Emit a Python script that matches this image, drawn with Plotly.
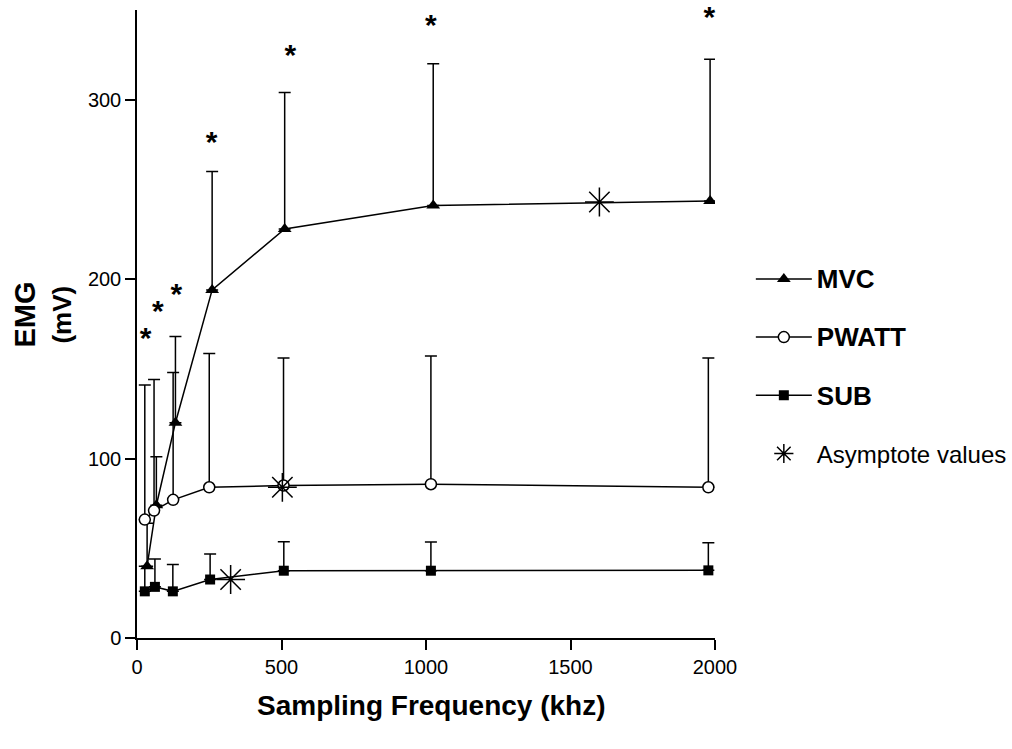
import plotly.graph_objects as go

# ---- data ----
freq_mvc = [35, 67, 133, 260, 511, 1025, 1983]
mvc_mean = [40, 74, 120, 194, 228, 241, 243.5]
mvc_sd = [24, 27, 48, 66, 76, 79, 79]

freq_pwatt = [27, 59, 125, 250, 507, 1017, 1977]
pwatt_mean = [66, 71, 77, 84, 85, 85.7, 84]
pwatt_sd = [75, 73, 71, 74.5, 71, 71.5, 72]

freq_sub = [27, 62, 124, 253, 508, 1017, 1977]
sub_mean = [26, 28.5, 26, 32.6, 37.5, 37.5, 37.7]
sub_sd = [14, 15.5, 15, 14.2, 16.2, 16, 15.4]

asym_freq = [1600, 503, 324]
asym_val = [243, 84, 32.6]

star_freq = [30, 72, 136, 258, 531, 1017, 1980]
star_val = [166, 181, 190.5, 275, 323.5, 340, 344.5]

x_ticks = [0, 500, 1000, 1500, 2000]
y_ticks = [0, 100, 200, 300]

FONT = "Arial, Liberation Sans, sans-serif"
BLACK = "black"

fig = go.Figure()


def err(sd):
    return dict(type="data", symmetric=False, array=sd,
                arrayminus=[0] * len(sd), color=BLACK, thickness=1.5, width=6)


def bold(s):
    return '<span style="font-size:26px"><b>%s</b></span>' % s


fig.add_trace(go.Scatter(
    x=freq_mvc, y=mvc_mean, mode="lines+markers", name=bold("MVC"),
    legendgroup="a",
    line=dict(color=BLACK, width=1.5),
    marker=dict(symbol="triangle-up", size=12, color=BLACK),
    error_y=err(mvc_sd)))

fig.add_trace(go.Scatter(
    x=freq_pwatt, y=pwatt_mean, mode="lines+markers", name=bold("PWATT"),
    legendgroup="b",
    line=dict(color=BLACK, width=1.5),
    marker=dict(symbol="circle", size=11, color="white",
                line=dict(color=BLACK, width=1.5)),
    error_y=err(pwatt_sd)))

fig.add_trace(go.Scatter(
    x=freq_sub, y=sub_mean, mode="lines+markers", name=bold("SUB"),
    legendgroup="c",
    line=dict(color=BLACK, width=1.5),
    marker=dict(symbol="square", size=10, color=BLACK),
    error_y=err(sub_sd)))

fig.add_trace(go.Scatter(
    x=asym_freq, y=asym_val, mode="markers", name="Asymptote values",
    legendgroup="d",
    marker=dict(symbol="asterisk-open", size=24, color=BLACK,
                line=dict(color=BLACK, width=1.5))))

fig.add_trace(go.Scatter(
    x=star_freq, y=star_val, mode="text", text=["<b>*</b>"] * len(star_freq),
    textposition="middle center", textfont=dict(family=FONT, size=30, color=BLACK),
    showlegend=False, cliponaxis=False, hoverinfo="skip"))

fig.update_layout(
    width=1012, height=749,
    margin=dict(l=137, r=297, t=10, b=111, autoexpand=False),
    paper_bgcolor="white", plot_bgcolor="white",
    font=dict(family=FONT, size=20, color=BLACK),
    showlegend=True,
    legend=dict(x=1.062, y=0.607, xanchor="left", yanchor="top",
                font=dict(family=FONT, size=24, color=BLACK),
                itemwidth=56, tracegroupgap=24, bgcolor="rgba(0,0,0,0)"),
    xaxis=dict(range=[0, 2000], tickvals=x_ticks, ticks="outside", ticklen=10,
               tickwidth=1.5, tickcolor=BLACK, showline=True, linewidth=1.5,
               linecolor=BLACK, showgrid=False, zeroline=False,
               tickfont=dict(size=20)),
    yaxis=dict(range=[0, 350], tickvals=y_ticks, ticks="outside", ticklen=10,
               tickwidth=1.5, tickcolor=BLACK, showline=True, linewidth=1.5,
               linecolor=BLACK, showgrid=False, zeroline=False,
               tickfont=dict(size=20)),
    annotations=[
        dict(text="<b>Sampling Frequency (khz)</b>", xref="paper", yref="paper",
             x=0.509, y=-0.107, xanchor="center", yanchor="middle",
             showarrow=False, font=dict(family=FONT, size=28, color=BLACK)),
        dict(text="<b>EMG</b>", xref="paper", yref="paper", x=0, y=0.515,
             xshift=-130, textangle=-90, showarrow=False,
             font=dict(family=FONT, size=29, color=BLACK)),
        dict(text="<b>(mV)</b>", xref="paper", yref="paper", x=0, y=0.515,
             xshift=-92, textangle=-90, showarrow=False,
             font=dict(family=FONT, size=26, color=BLACK)),
    ],
)

fig.write_html("out.html",
               config={"displayModeBar": False},
               post_script="document.body.style.margin='0';")
